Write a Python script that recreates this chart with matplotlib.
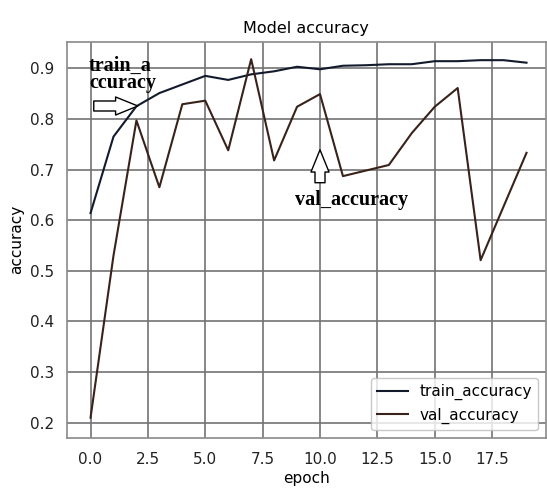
import matplotlib
matplotlib.use('Agg')
import matplotlib.pyplot as plt
import numpy as np

# per-epoch accuracy
epochs = np.arange(20)
train_acc = [0.614, 0.765, 0.825, 0.851, 0.868, 0.885, 0.877, 0.888, 0.894, 0.903,
             0.898, 0.905, 0.906, 0.908, 0.908, 0.914, 0.914, 0.916, 0.916, 0.911]
val_acc = [0.21, 0.53, 0.797, 0.665, 0.829, 0.836, 0.738, 0.918, 0.718, 0.824,
           0.849, 0.687, 0.698, 0.709, 0.772, 0.824, 0.861, 0.521, 0.627, 0.733]

figure = plt.figure(figsize=(5.47, 4.91), dpi=100)
ax = figure.add_axes([0.1219, 0.1085, 0.8763, 0.8066])

ax.plot(epochs, train_acc, color='#121a2c', linewidth=1.5, label='train_accuracy')
ax.plot(epochs, val_acc, color='#38221a', linewidth=1.5, label='val_accuracy')

ax.set_xlim(-1.04, 19.85)
ax.set_ylim(0.1704, 0.9525)

ax.grid(True, color='#737373', linewidth=1.2)
ax.set_axisbelow(True)
for s in ax.spines.values():
    s.set_color('#8a8a8a')
    s.set_linewidth(1.2)
ax.tick_params(axis='both', length=0, labelsize=11, colors='#222222')
ax.tick_params(axis='x', pad=10)
ax.tick_params(axis='y', pad=9)

ax.set_title('Model accuracy', fontsize=11.5, pad=6)
ax.set_xlabel('epoch', fontsize=11, labelpad=3)
ax.set_ylabel('accuracy', fontsize=11, labelpad=4)

leg = ax.legend(loc='lower right', fontsize=11, framealpha=0.8)
leg.get_frame().set_edgecolor('#bbbbbb')

# hand-drawn style annotations
ax.text(-0.06, 0.925, 'train_a\nccuracy', family='Liberation Serif', fontweight='bold',
        fontsize=14.5, ha='left', va='top', linespacing=0.85)
arrow = dict(arrowstyle='simple,head_width=1.3,head_length=1.6,tail_width=0.72',
             fc='white', ec='black', lw=1.0, shrinkA=0, shrinkB=0, mutation_scale=10)
ax.annotate('', xy=(2.06, 0.8255), xytext=(0.14, 0.8255), arrowprops=arrow)
ax.annotate('', xy=(10.0, 0.739), xytext=(10.0, 0.674), arrowprops=arrow)
ax.text(11.36, 0.640, 'val_accuracy', family='Liberation Serif', fontweight='bold',
        fontsize=14.5, ha='center', va='center')

plt.savefig('out.png', dpi=100)
